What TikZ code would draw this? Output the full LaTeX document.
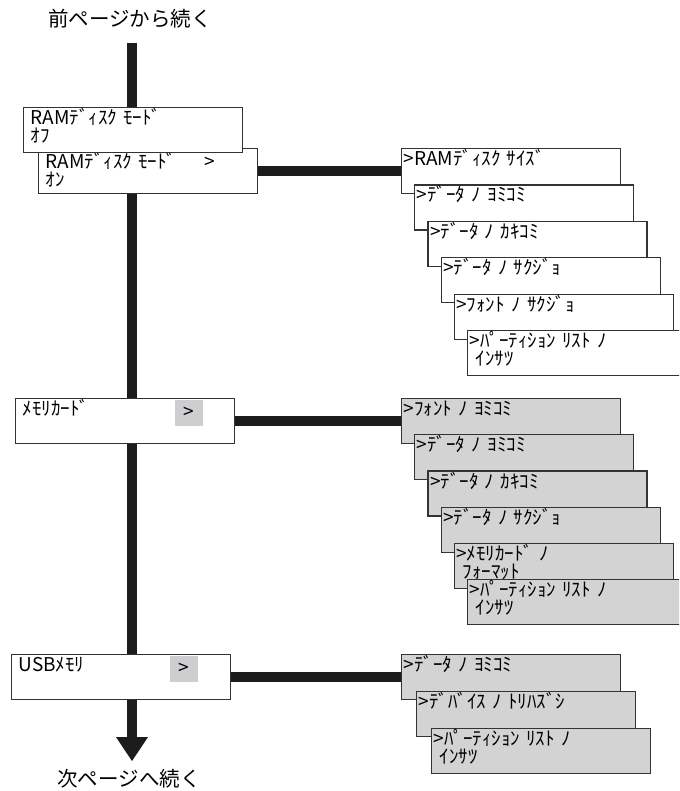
\documentclass[tikz,border=0pt]{standalone}
\usepackage{fontspec}
\setmainfont{Noto Sans CJK JP}[WordSpace=2.6]
\usetikzlibrary{arrows.meta}
\definecolor{boxline}{RGB}{51, 51, 51}
\definecolor{itemgray}{RGB}{211, 211, 212}
\definecolor{markgray}{RGB}{206, 206, 208}
\definecolor{barblack}{RGB}{28, 28, 28}
\newcommand{\menufont}{\fontsize{19pt}{18pt}\selectfont}
\newcommand{\pagefont}{\fontsize{20.5pt}{22pt}\selectfont}

\begin{document}
\begin{tikzpicture}[
        x=1pt, y=-1pt,
        menubox/.style={rectangle, draw=boxline, line width=1.2pt, fill=white, anchor=north west, text width=205pt, inner xsep=7pt, inner ysep=0pt, text height=17pt, text depth=28pt, align=left, font=\menufont},
        itembox/.style={menubox, text width=215pt, inner xsep=2pt},
        shadebox/.style={itembox, fill=itemgray},
        selmark/.style={rectangle, fill=markgray, minimum width=28pt, minimum height=26pt, inner sep=0pt, anchor=north west, font=\menufont},
        flowbar/.style={line width=10pt, draw=barblack, -{Triangle[length=24pt, width=32pt, line width=0pt]}},
        linkbar/.style={line width=10pt, draw=barblack},
        pagenote/.style={font=\pagefont}
    ]
        \path[use as bounding box, clip] (0,0) rectangle (679,791);
        \node[pagenote] (prev) at (130,19) {前ページから続く};
        \node[pagenote] (next) at (129,779) {次ページへ続く};
        \coordinate (flowtop) at (132,43);
        \coordinate (flowend) at (132,761);
        \draw[flowbar] (flowtop) -- (flowend);

        % main menu
        \node[menubox, text height=20pt, text depth=25pt] (ramon) at (38,148) {\makebox[159pt][l]{RAMﾃﾞｨｽｸ ﾓｰﾄﾞ}>\\ｵﾝ};
        \node[menubox] (ramoff) at (23,107) {RAMﾃﾞｨｽｸ ﾓｰﾄﾞ\\ｵﾌ};
        \node[menubox] (card) at (15,398) {ﾒﾓﾘｶｰﾄﾞ};
        \node[selmark] (cardsel) at ([shift={(159.5pt,-1.5pt)}]card.north west) {>};
        \node[menubox] (usb) at (11,654) {USBﾒﾓﾘ};
        \node[selmark] (usbsel) at ([shift={(158.5pt,-1.5pt)}]usb.north west) {>};

        % RAM disk
        \node[itembox] (ramsize) at (401,148) {>RAMﾃﾞｨｽｸ ｻｲｽﾞ};
        \node[itembox] (ramread) at ([shift={(13.2pt,-36.4pt)}]ramsize.north west) {>ﾃﾞｰﾀ ﾉ ﾖﾐｺﾐ};
        \node[itembox] (ramwrite) at ([shift={(13.2pt,-36.4pt)}]ramread.north west) {>ﾃﾞｰﾀ ﾉ ｶｷｺﾐ};
        \node[itembox] (ramdel) at ([shift={(13.2pt,-36.4pt)}]ramwrite.north west) {>ﾃﾞｰﾀ ﾉ ｻｸｼﾞｮ};
        \node[itembox] (ramfont) at ([shift={(13.2pt,-36.4pt)}]ramdel.north west) {>ﾌｫﾝﾄ ﾉ ｻｸｼﾞｮ};
        \node[itembox] (ramlist) at ([shift={(13.2pt,-36.4pt)}]ramfont.north west) {>ﾊﾟｰﾃｨｼｮﾝ ﾘｽﾄ ﾉ\\~ｲﾝｻﾂ};

        % memory card
        \node[shadebox] (cardfont) at (401,398) {>ﾌｫﾝﾄ ﾉ ﾖﾐｺﾐ};
        \node[shadebox] (cardread) at ([shift={(13.2pt,-36.2pt)}]cardfont.north west) {>ﾃﾞｰﾀ ﾉ ﾖﾐｺﾐ};
        \node[shadebox] (cardwrite) at ([shift={(13.2pt,-36.2pt)}]cardread.north west) {>ﾃﾞｰﾀ ﾉ ｶｷｺﾐ};
        \node[shadebox] (carddel) at ([shift={(13.2pt,-36.2pt)}]cardwrite.north west) {>ﾃﾞｰﾀ ﾉ ｻｸｼﾞｮ};
        \node[shadebox] (cardformat) at ([shift={(13.2pt,-36.2pt)}]carddel.north west) {>ﾒﾓﾘｶｰﾄﾞ ﾉ\\~ﾌｫｰﾏｯﾄ};
        \node[shadebox] (cardlist) at ([shift={(13.2pt,-36.2pt)}]cardformat.north west) {>ﾊﾟｰﾃｨｼｮﾝ ﾘｽﾄ ﾉ\\~ｲﾝｻﾂ};

        % USB memory
        \node[shadebox] (usbread) at (401,654) {>ﾃﾞｰﾀ ﾉ ﾖﾐｺﾐ};
        \node[shadebox] (usbfont) at ([shift={(15pt,-37pt)}]usbread.north west) {>ﾃﾞﾊﾞｲｽ ﾉ ﾄﾘﾊｽﾞｼ};
        \node[shadebox] (usblist) at ([shift={(15pt,-37pt)}]usbfont.north west) {>ﾊﾟｰﾃｨｼｮﾝ ﾘｽﾄ ﾉ\\~ｲﾝｻﾂ};

        \draw[linkbar] (ramon) -- (ramsize);
        \draw[linkbar] (card) -- (cardfont);
        \draw[linkbar] (usb) -- (usbread);
    \end{tikzpicture}
\end{document}
